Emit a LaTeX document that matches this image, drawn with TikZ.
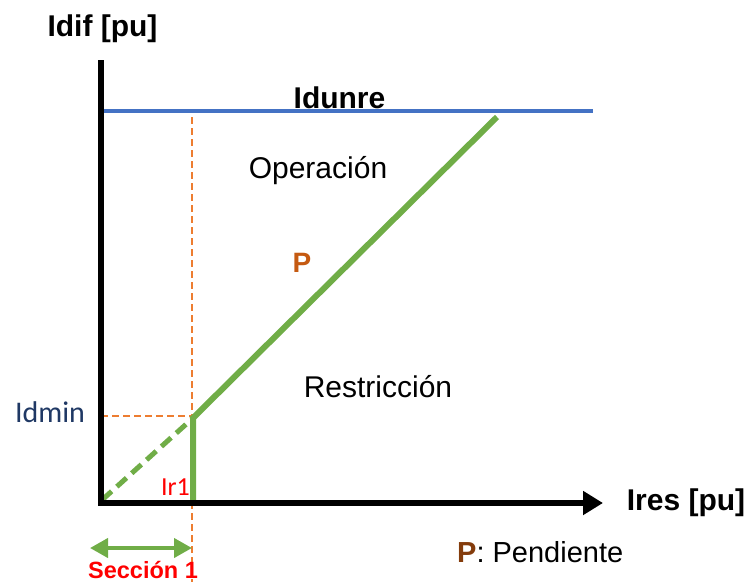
\documentclass[tikz,border=0pt]{standalone}
\usepackage{fontspec}
\setmainfont{Liberation Sans}
\newfontfamily\calib{Carlito}
\usetikzlibrary{arrows.meta}
\definecolor{cblue}{HTML}{4472C4}
\definecolor{cgreen}{HTML}{70AD47}
\definecolor{corange}{HTML}{ED7D31}
\definecolor{cporange}{HTML}{C55A11}
\definecolor{cbrown}{HTML}{843C0C}
\definecolor{cnavy}{HTML}{1F3864}
\definecolor{cred}{HTML}{FF0000}
\tikzset{
  axisline/.style={line width=5.5pt, black},
  guide/.style={corange, line width=1.3pt, dash pattern=on 7pt off 4pt},
  curve/.style={cgreen, line width=6pt},
  lbl/.style={inner sep=0pt, anchor=base},
}
\begin{document}
\begin{tikzpicture}[x=1pt,y=-1pt]
\useasboundingbox (0,0) rectangle (750,582);
% coordinates
\coordinate (ytop) at (101,60);
\coordinate (O) at (101,503);
\coordinate (xstart) at (98,503);
\coordinate (xend) at (603,503);
\coordinate (bl) at (101,110.5);
\coordinate (br) at (593,110.5);
\coordinate (K) at (193,418);
\coordinate (Kb) at (193,501);
\coordinate (G0) at (102,500);
\coordinate (Gend) at (497,117);
\coordinate (vt) at (192,117);
\coordinate (vb) at (192,582);
\coordinate (hl) at (101,416);
\coordinate (hr) at (192,416);
\coordinate (sl) at (90,548);
\coordinate (sr) at (192,548);
% guides
\draw[guide] (vt) -- (vb);
\draw[guide] (hl) -- (hr);
% blue limit
\draw[cblue, line width=4pt] (bl) -- (br);
% green characteristic
\draw[cgreen, line width=5pt, dash pattern=on 13pt off 7pt] (G0) -- (K);
\draw[curve] (Kb) -- (K) -- (Gend);
% axes
\draw[axisline] (ytop) -- (101,506);
\draw[axisline, -{Triangle[length=20pt,width=23pt]}] (xstart) -- (xend);
% section arrow
\draw[cgreen, line width=4pt, {Triangle[length=18pt,width=19pt]}-{Triangle[length=18pt,width=19pt]}] (sl) -- (sr);
% labels
\node[lbl, font=\fontsize{30}{30}\selectfont\bfseries] (idif) at (102.5,36) {Idif [pu]};
\node[lbl, font=\fontsize{30}{30}\selectfont\bfseries] (idunre) at (339.5,108) {Idunre};
\node[lbl, font=\fontsize{30}{30}\selectfont] (oper) at (318,178) {Operación};
\node[lbl, font=\fontsize{28}{28}\selectfont\bfseries, text=cporange] (p) at (302,272) {P};
\node[lbl, font=\fontsize{30}{30}\selectfont] (restr) at (378,397) {Restricción};
\node[lbl, font=\fontsize{30}{30}\selectfont\calib, text=cnavy] (idmin) at (50,422) {Idmin};
\node[lbl, font=\fontsize{26}{26}\selectfont\calib, text=cred] (ir1) at (175.5,495) {Ir1};
\node[lbl, font=\fontsize{30}{30}\selectfont\bfseries] (ires) at (686,510) {Ires [pu]};
\node[inner sep=0pt, anchor=base west, font=\fontsize{29}{29}\selectfont] (pend) at (457,562) {\textcolor{cbrown}{\bfseries P}: Pendiente};
\node[lbl, font=\fontsize{23.5}{23.5}\selectfont\bfseries, text=cred] (secc) at (143,578.5) {Sección 1};
\end{tikzpicture}
\end{document}
